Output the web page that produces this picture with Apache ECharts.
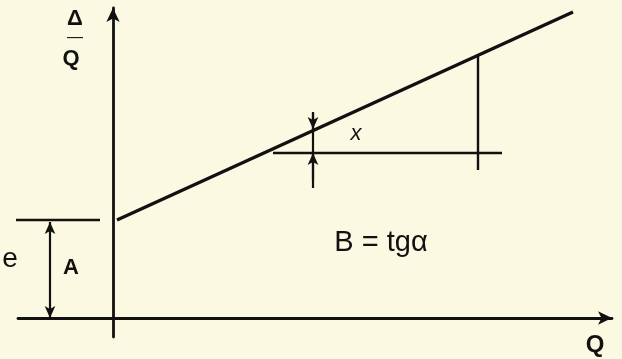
<!DOCTYPE html>
<html>
<head>
<meta charset="utf-8">
<script src="https://cdn.jsdelivr.net/npm/echarts@6/dist/echarts.min.js"></script>
<style>
  html, body { margin: 0; padding: 0; background: #fcf9e2; }
  #chart-wrap { width: 622px; height: 359px; }
</style>
</head>
<body>
<div id="chart-wrap"></div>
<script>
;(function(){
  // axis ranges (same units as the sketch)
  var xRange = [-95, 499];
  var yRange = [-19, 310];

  // main line  Δ/Q = A + B·Q
  var mainLine = [[4, 98], [460, 306]];
  // level of A, drawn to the left of the axis
  var levelA = [[-103, 98], [-13, 98]];
  // A dimension arrow
  var arrowA = [[-63, 0], [-63, 96]];
  // slope construction
  var runLine = [[160, 165], [389, 165]];
  var riseLeft = [[200, 130], [200, 206]];
  var riseRight = [[365, 148], [365, 263]];
  var tickUp = [[200, 138], [200, 165]];
  var tickDown = [[200, 205], [200, 189]];

  // text labels [x, y, text, size, weight]
  var labels = [
    [-38, 299, 'Δ', 22, 'bold'],
    [-38, 280, '—', 16, 'normal'],
    [-42, 259, 'Q', 22, 'bold'],
    [-103, 59, 'e', 28, 'normal'],
    [-42, 50, 'A', 22, 'bold'],
    [243, 184, 'x', 22, 'normal'],
    [268, 75, 'B = tgα', 29, 'normal'],
    [482, -27, 'Q', 24, 'bold']
  ];

  var ink = '#111111';

  function seg(data, w){
    return {
      type: 'line', data: data, symbol: 'none', silent: true,
      lineStyle: { color: ink, width: w }, animation: false
    };
  }
  function arrow(data, both){
    return {
      type: 'line', data: [], silent: true, animation: false,
      markLine: {
        silent: true, animation: false,
        symbol: both ? ['arrow', 'arrow'] : ['none', 'arrow'],
        symbolSize: [8, 12],
        label: { show: false },
        lineStyle: { color: ink, width: 2.2, type: 'solid' },
        data: [[{ coord: data[0] }, { coord: data[1] }]]
      }
    };
  }

  var myChart = echarts.init(document.getElementById('chart-wrap'));
  var option = {
    backgroundColor: '#fcf9e2',
    animation: false,
    grid: { left: 18, right: 10, top: 8, bottom: 22 },
    xAxis: {
      type: 'value', min: xRange[0], max: xRange[1],
      axisLine: { onZero: true, symbol: ['none', 'arrow'], symbolSize: [10, 14],
        lineStyle: { color: ink, width: 2.8 } },
      axisTick: { show: false }, axisLabel: { show: false }, splitLine: { show: false }
    },
    yAxis: {
      type: 'value', min: yRange[0], max: yRange[1],
      axisLine: { onZero: true, symbol: ['none', 'arrow'], symbolSize: [10, 14],
        lineStyle: { color: ink, width: 2.8 } },
      axisTick: { show: false }, axisLabel: { show: false }, splitLine: { show: false }
    },
    series: [
      seg(mainLine, 3.4),
      seg(levelA, 2.6),
      seg(runLine, 2.4),
      seg(riseLeft, 2.2),
      seg(riseRight, 2.4),
      arrow(arrowA, true),
      arrow(tickUp, false),
      arrow(tickDown, false),
      {
        type: 'scatter', silent: true, clip: false, symbolSize: 0, animation: false,
        itemStyle: { opacity: 1 },
        data: labels.map(function(l){
          return {
            value: [l[0], l[1]],
            label: {
              show: true, position: 'inside', formatter: l[2],
              fontSize: l[3], color: ink, opacity: 1,
              fontFamily: 'Liberation Sans', fontWeight: l[4],
              fontStyle: l[2] === 'x' ? 'italic' : 'normal'
            }
          };
        })
      }
    ]
  };
  myChart.setOption(option);
})();
</script>
</body>
</html>
